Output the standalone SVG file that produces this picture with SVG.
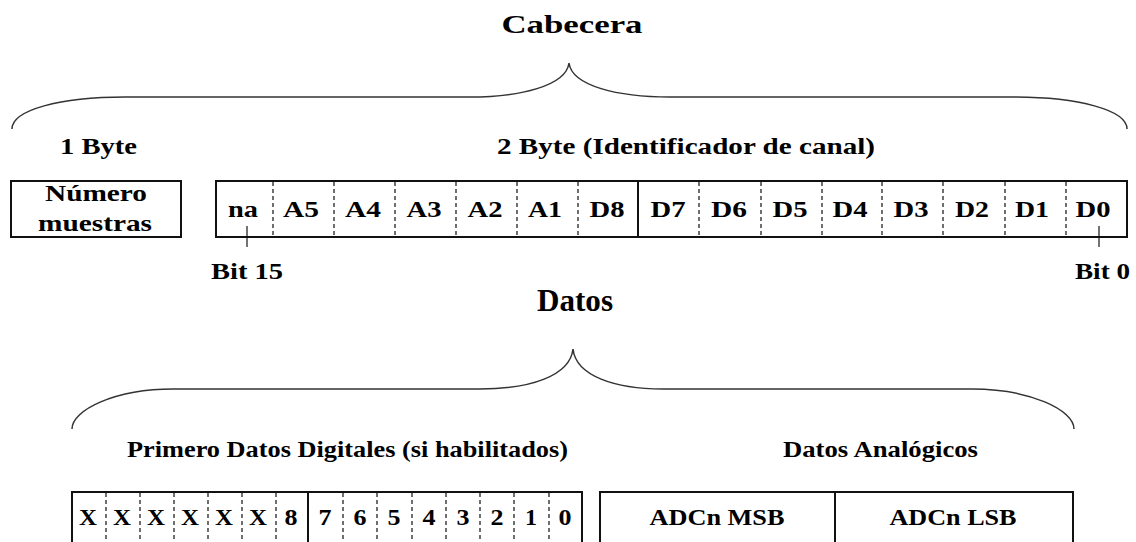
<svg xmlns="http://www.w3.org/2000/svg" width="1136" height="542" viewBox="0 0 1136 542">
<style>
text{font-family:'Liberation Serif','Times New Roman',serif;font-weight:700;fill:#000;}
.t{font-size:23px;}
.c{text-anchor:middle;}
.box{fill:none;stroke:#111;stroke-width:2;}
.dash{stroke:#222;stroke-width:1.3;stroke-dasharray:4 3;}
.solid{stroke:#111;stroke-width:2;}
.brace{fill:none;stroke:#333;stroke-width:1.5;}
.tick{stroke:#444;stroke-width:1.5;}
</style>
<rect width="1136" height="542" fill="#fff"/>
<g id="connectors">
<path class="brace" d="M12,129 C12,110 60,97 125,97 H469 C520,97 566,86 569,63 C572,86 618,97 670,97 H1013 C1078,97 1127,110 1127,129"/>
<path class="brace" d="M72,429 C72,410 115,389 173,389 H480 C530,389 570,376 573,349 C576,376 615,389 663,389 H972 C1030,389 1074,410 1074,429"/>
<line class="tick" x1="247" y1="226" x2="247" y2="247"/>
<line class="tick" x1="1099" y1="226" x2="1099" y2="247"/>
</g>
<g id="cabecera">
<text x="572" y="33" class="c" font-size="26" textLength="141" lengthAdjust="spacingAndGlyphs">Cabecera</text>
</g>
<g id="label-1byte">
<text x="60" y="154" class="t" textLength="77" lengthAdjust="spacingAndGlyphs">1 Byte</text>
</g>
<g id="label-2byte">
<text x="497" y="154" class="t" textLength="378" lengthAdjust="spacingAndGlyphs">2 Byte (Identificador de canal)</text>
</g>
<g id="numero-muestras">
<rect class="box" x="11" y="181" width="170" height="56"/>
<text x="96" y="201" class="t c" textLength="102" lengthAdjust="spacingAndGlyphs">Número</text>
<text x="95" y="231" class="t c" textLength="114" lengthAdjust="spacingAndGlyphs">muestras</text>
</g>
<g id="canal-register">
<rect class="box" x="216" y="181" width="911" height="56"/>
<line class="dash" x1="273" y1="182" x2="273" y2="236"/>
<line class="dash" x1="334" y1="182" x2="334" y2="236"/>
<line class="dash" x1="395" y1="182" x2="395" y2="236"/>
<line class="dash" x1="456" y1="182" x2="456" y2="236"/>
<line class="dash" x1="517" y1="182" x2="517" y2="236"/>
<line class="dash" x1="578" y1="182" x2="578" y2="236"/>
<line class="solid" x1="638" y1="181" x2="638" y2="237"/>
<line class="dash" x1="699" y1="182" x2="699" y2="236"/>
<line class="dash" x1="761" y1="182" x2="761" y2="236"/>
<line class="dash" x1="822" y1="182" x2="822" y2="236"/>
<line class="dash" x1="882" y1="182" x2="882" y2="236"/>
<line class="dash" x1="943" y1="182" x2="943" y2="236"/>
<line class="dash" x1="1005" y1="182" x2="1005" y2="236"/>
<line class="dash" x1="1066" y1="182" x2="1066" y2="236"/>
<text x="243" y="217" class="t c" textLength="30" lengthAdjust="spacingAndGlyphs">na</text>
<text x="301" y="217" class="t c" textLength="36" lengthAdjust="spacingAndGlyphs">A5</text>
<text x="363" y="217" class="t c" textLength="36" lengthAdjust="spacingAndGlyphs">A4</text>
<text x="424" y="217" class="t c" textLength="35" lengthAdjust="spacingAndGlyphs">A3</text>
<text x="485" y="217" class="t c" textLength="35" lengthAdjust="spacingAndGlyphs">A2</text>
<text x="545" y="217" class="t c" textLength="34" lengthAdjust="spacingAndGlyphs">A1</text>
<text x="607" y="217" class="t c" textLength="35" lengthAdjust="spacingAndGlyphs">D8</text>
<text x="668" y="217" class="t c" textLength="35" lengthAdjust="spacingAndGlyphs">D7</text>
<text x="729" y="217" class="t c" textLength="36" lengthAdjust="spacingAndGlyphs">D6</text>
<text x="790" y="217" class="t c" textLength="35" lengthAdjust="spacingAndGlyphs">D5</text>
<text x="850" y="217" class="t c" textLength="35" lengthAdjust="spacingAndGlyphs">D4</text>
<text x="911" y="217" class="t c" textLength="35" lengthAdjust="spacingAndGlyphs">D3</text>
<text x="972" y="217" class="t c" textLength="34" lengthAdjust="spacingAndGlyphs">D2</text>
<text x="1032" y="217" class="t c" textLength="34" lengthAdjust="spacingAndGlyphs">D1</text>
<text x="1093" y="217" class="t c" textLength="35" lengthAdjust="spacingAndGlyphs">D0</text>
</g>
<g id="bit15">
<text x="211" y="279" class="t" textLength="72" lengthAdjust="spacingAndGlyphs">Bit 15</text>
</g>
<g id="bit0">
<text x="1075" y="279" class="t" textLength="55" lengthAdjust="spacingAndGlyphs">Bit 0</text>
</g>
<g id="datos">
<text x="575" y="311" class="c" font-size="31" textLength="76" lengthAdjust="spacingAndGlyphs">Datos</text>
</g>
<g id="label-digitales">
<text x="127" y="457" class="t" textLength="441" lengthAdjust="spacingAndGlyphs">Primero Datos Digitales (si habilitados)</text>
</g>
<g id="label-analogicos">
<text x="783" y="457" class="t" textLength="195" lengthAdjust="spacingAndGlyphs">Datos Analógicos</text>
</g>
<g id="digital-register">
<rect class="box" x="72" y="492" width="510" height="60"/>
<line class="dash" x1="106" y1="493" x2="106" y2="542"/>
<line class="dash" x1="140" y1="493" x2="140" y2="542"/>
<line class="dash" x1="174" y1="493" x2="174" y2="542"/>
<line class="dash" x1="208" y1="493" x2="208" y2="542"/>
<line class="dash" x1="242" y1="493" x2="242" y2="542"/>
<line class="dash" x1="276" y1="493" x2="276" y2="542"/>
<line class="solid" x1="308" y1="492" x2="308" y2="542"/>
<line class="dash" x1="343" y1="493" x2="343" y2="542"/>
<line class="dash" x1="377" y1="493" x2="377" y2="542"/>
<line class="dash" x1="412" y1="493" x2="412" y2="542"/>
<line class="dash" x1="446" y1="493" x2="446" y2="542"/>
<line class="dash" x1="480" y1="493" x2="480" y2="542"/>
<line class="dash" x1="514" y1="493" x2="514" y2="542"/>
<line class="dash" x1="549" y1="493" x2="549" y2="542"/>
<text x="88" y="525" class="t c" textLength="18" lengthAdjust="spacingAndGlyphs">X</text>
<text x="122" y="525" class="t c" textLength="18" lengthAdjust="spacingAndGlyphs">X</text>
<text x="156" y="525" class="t c" textLength="18" lengthAdjust="spacingAndGlyphs">X</text>
<text x="190" y="525" class="t c" textLength="18" lengthAdjust="spacingAndGlyphs">X</text>
<text x="224" y="525" class="t c" textLength="18" lengthAdjust="spacingAndGlyphs">X</text>
<text x="258" y="525" class="t c" textLength="18" lengthAdjust="spacingAndGlyphs">X</text>
<text x="291" y="525" class="t c" textLength="13" lengthAdjust="spacingAndGlyphs">8</text>
<text x="325" y="525" class="t c" textLength="13" lengthAdjust="spacingAndGlyphs">7</text>
<text x="360" y="525" class="t c" textLength="13" lengthAdjust="spacingAndGlyphs">6</text>
<text x="394" y="525" class="t c" textLength="13" lengthAdjust="spacingAndGlyphs">5</text>
<text x="429" y="525" class="t c" textLength="13" lengthAdjust="spacingAndGlyphs">4</text>
<text x="463" y="525" class="t c" textLength="13" lengthAdjust="spacingAndGlyphs">3</text>
<text x="497" y="525" class="t c" textLength="13" lengthAdjust="spacingAndGlyphs">2</text>
<text x="531" y="525" class="t c" textLength="12" lengthAdjust="spacingAndGlyphs">1</text>
<text x="565" y="525" class="t c" textLength="13" lengthAdjust="spacingAndGlyphs">0</text>
</g>
<g id="analog-register">
<rect class="box" x="600" y="492" width="473" height="60"/>
<line class="solid" x1="835" y1="492" x2="835" y2="542"/>
<text x="717" y="525" class="t c" textLength="135" lengthAdjust="spacingAndGlyphs">ADCn MSB</text>
<text x="953" y="525" class="t c" textLength="127" lengthAdjust="spacingAndGlyphs">ADCn LSB</text>
</g>
</svg>
